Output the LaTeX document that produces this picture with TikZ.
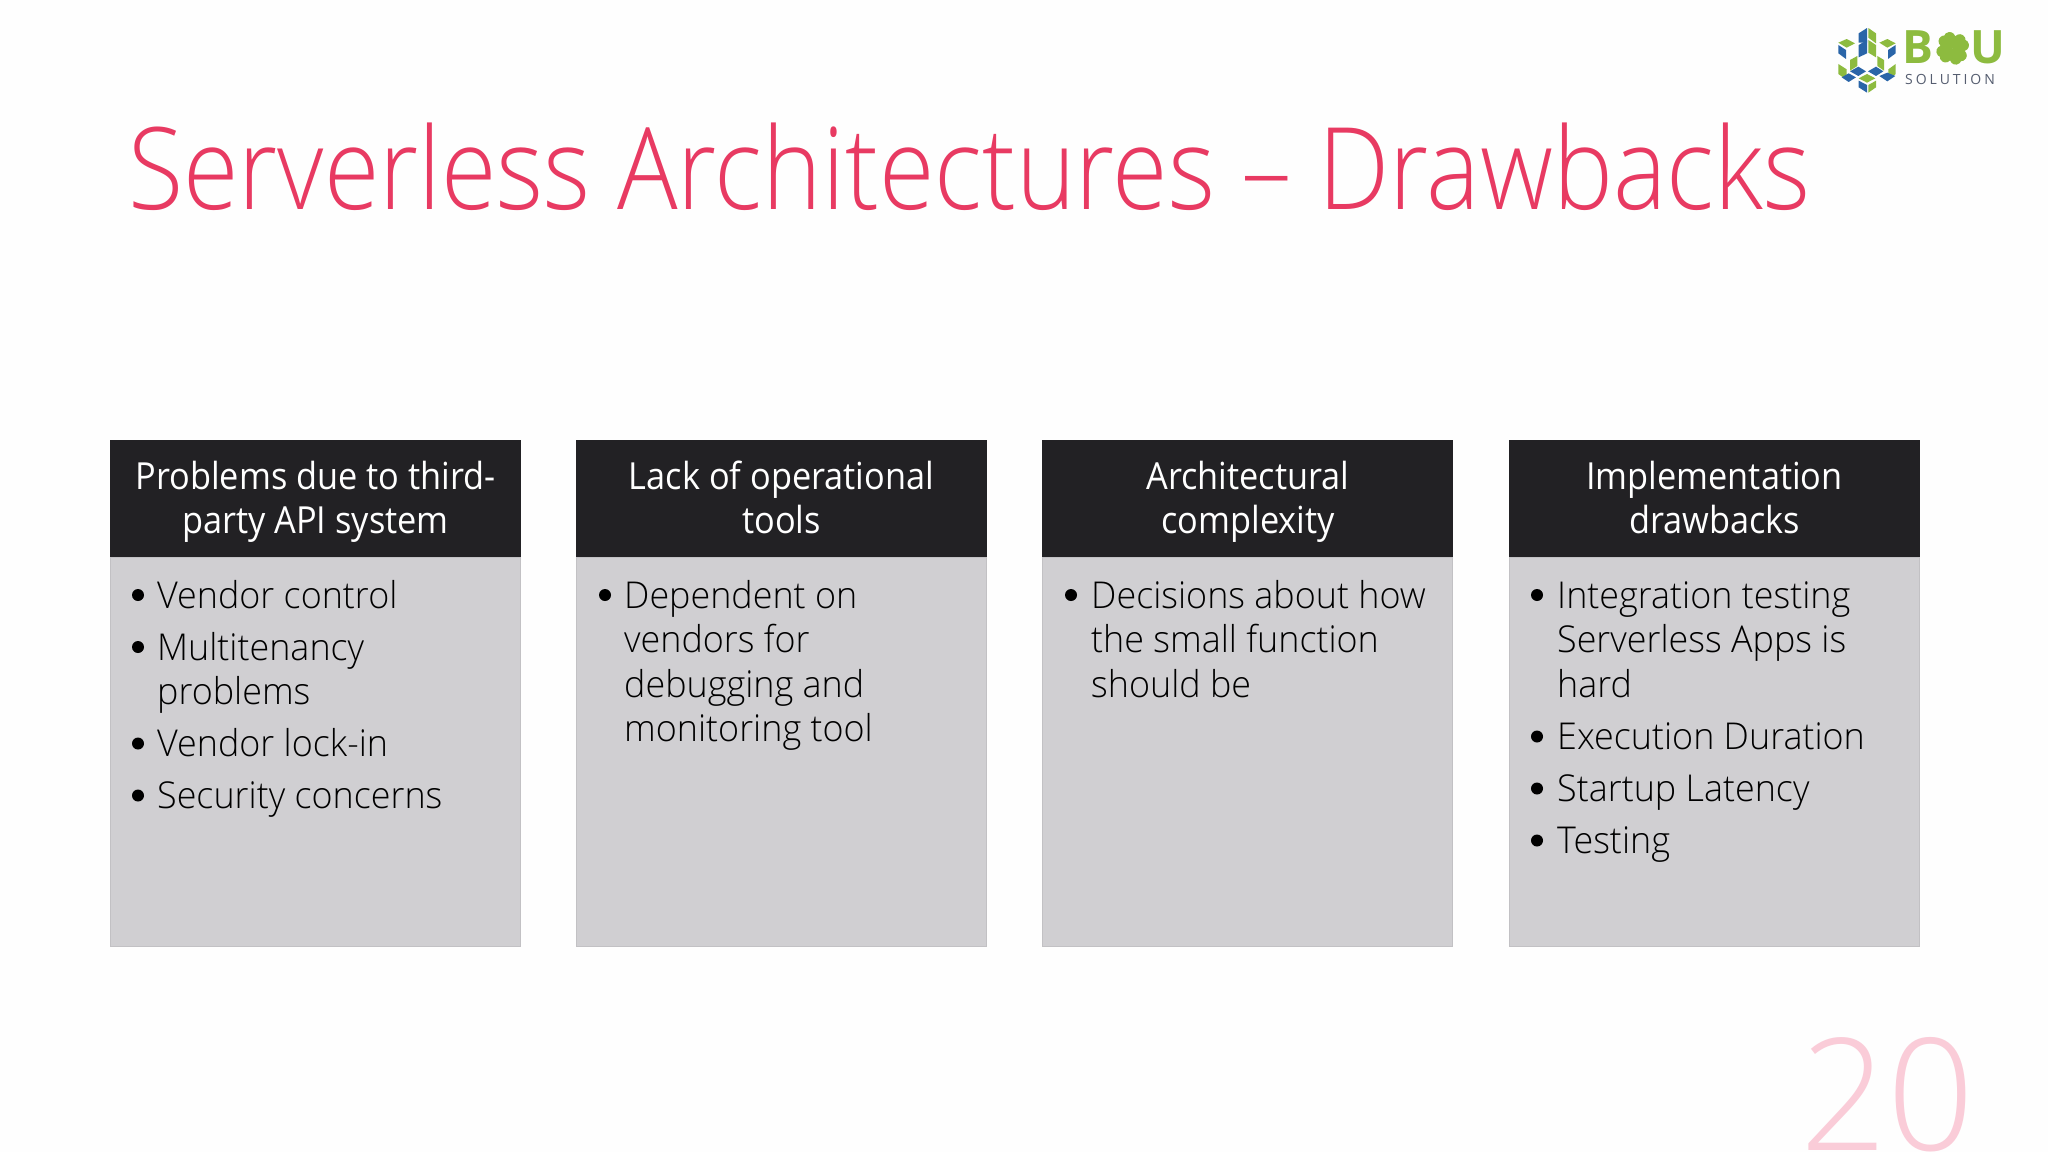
\documentclass[tikz,border=0pt]{standalone}
\usepackage{fontspec}
\setmainfont{Open Sans}
\newfontfamily\ttlfont[FakeStretch=0.885]{Open Sans Light}
\newfontfamily\numfont[FakeStretch=0.975]{Open Sans Light}
\newfontfamily\headfont[FakeStretch=0.92]{Open Sans}
\newfontfamily\bodyfont[FakeStretch=0.97]{Open Sans Light}
\newfontfamily\logofont{Open Sans}
\definecolor{pagebg}{HTML}{FEFEFE}
\definecolor{ttlc}{HTML}{E83A62}
\definecolor{headc}{HTML}{222124}
\definecolor{bodyc}{HTML}{D0CFD2}
\definecolor{edgec}{HTML}{C2C1C4}
\definecolor{numc}{HTML}{FACCD8}
\definecolor{lgreen}{HTML}{8DBB3F}
\definecolor{lblue}{HTML}{2A65A8}
\definecolor{lgray}{HTML}{565E70}
\tikzset{
 head/.style={fill=headc,draw=none},
 panel/.style={fill=bodyc,draw=edgec,line width=0.8pt},
 htext/.style={anchor=base,text=white,inner sep=0pt,font=\headfont\fontsize{37.3}{44}\selectfont},
 btext/.style={anchor=base west,text=black,inner sep=0pt,font=\bodyfont\fontsize{37}{44}\selectfont},
 dot/.style={circle,fill=black,inner sep=0pt,minimum size=12pt},
 lg/.style={fill=lgreen,draw=none},
 lb/.style={fill=lblue,draw=none},
}
\begin{document}
\begin{tikzpicture}[x=1pt,y=-1pt]
\useasboundingbox (0,0) rectangle (2048,1152);
\clip (0,0) rectangle (2048,1152);
\fill[pagebg] (0,0) rectangle (2048,1152);
% title
\node[anchor=base west,inner sep=0pt,text=ttlc,font=\ttlfont\fontsize{114}{120}\selectfont] (title) at (128,209) {Serverless Architectures – Drawbacks};
% panels
\foreach \xa/\xb in {110/521,576/987,1042/1453,1509/1920}{
 \filldraw[panel] (\xa+0.4,557) rectangle (\xb-0.4,946.5);
 \fill[head] (\xa,440) rectangle (\xb,557);
}
% headers
\node[htext] (h1a) at (315.5,489) {Problems due to third-};
\node[htext] (h1b) at (315.5,533) {party API system};
\node[htext] (h2a) at (781.5,489) {Lack of operational};
\node[htext] (h2b) at (781.5,533) {tools};
\node[htext] (h3a) at (1248,489) {Architectural};
\node[htext] (h3b) at (1248,533) {complexity};
\node[htext] (h4a) at (1714.5,489) {Implementation};
\node[htext] (h4b) at (1714.5,533) {drawbacks};
% column 1
\node[dot] (d11) at (138,595) {};
\node[btext] (t11) at (157,608) {Vendor control};
\node[dot] (d12) at (138,647) {};
\node[btext] (t12) at (157,660) {Multitenancy};
\node[btext] (t12b) at (157,704.5) {problems};
\node[dot] (d13) at (138,743.5) {};
\node[btext] (t13) at (157,756.5) {Vendor lock-in};
\node[dot] (d14) at (138,795.5) {};
\node[btext] (t14) at (157,808.5) {Security concerns};
% column 2
\node[dot] (d21) at (605,595) {};
\node[btext] (t21) at (624,608) {Dependent on};
\node[btext] (t22) at (624,652.5) {vendors for};
\node[btext] (t23) at (624,697) {debugging and};
\node[btext] (t24) at (624,741.5) {monitoring tool};
% column 3
\node[dot] (d31) at (1071,595) {};
\node[btext] (t31) at (1091,608) {Decisions about how};
\node[btext] (t32) at (1091,652.5) {the small function};
\node[btext] (t33) at (1091,697) {should be};
% column 4
\node[dot] (d41) at (1537,595) {};
\node[btext] (t41) at (1557,608) {Integration testing};
\node[btext] (t42) at (1557,652.5) {Serverless Apps is};
\node[btext] (t43) at (1557,697) {hard};
\node[dot] (d42) at (1537,736.5) {};
\node[btext] (t44) at (1557,749.5) {Execution Duration};
\node[dot] (d43) at (1537,788.5) {};
\node[btext] (t45) at (1557,801.5) {Startup Latency};
\node[dot] (d44) at (1537,840.5) {};
\node[btext] (t46) at (1557,853.5) {Testing};
% page number
\node[anchor=base west,inner sep=0pt,text=numc,font=\numfont\fontsize{156}{170}\selectfont] (num) at (1800,1150) {20};
% logo
\begin{scope}[shift={(1800,0)},x=0.3333pt,y=-0.3333pt]
\fill[lb] (176,100)--(201,84)--(201,128)--(176,128)--cycle;
\fill[lg] (205,84)--(228,100)--(228,130)--(205,113)--cycle;
\fill[lg] (115,128)--(140,117)--(165,130)--(140,143)--cycle;
\fill[lb] (115,135)--(138,150)--(138,177)--(115,160)--cycle;
\fill[lg] (238,128)--(262,117)--(287,130)--(262,143)--cycle;
\fill[lb] (287,135)--(264,150)--(264,177)--(287,160)--cycle;
\fill[lb] (176,135)--(201,120)--(201,160)--(176,172)--cycle;
\fill[lg] (205,120)--(228,135)--(228,172)--(205,158)--cycle;
\fill[lg] (150,180)--(172,168)--(172,198)--(150,212)--cycle;
\fill[lg] (252,180)--(232,168)--(232,198)--(252,212)--cycle;
\fill[lg] (115,192)--(140,208)--(140,240)--(115,222)--cycle;
\fill[lg] (265,208)--(287,192)--(287,222)--(265,240)--cycle;
\fill[lb] (150,214)--(175,200)--(198,214)--(175,228)--cycle;
\fill[lb] (204,214)--(228,200)--(250,214)--(228,228)--cycle;
\fill[lb] (125,232)--(146,220)--(168,232)--(146,246)--cycle;
\fill[lb] (238,228)--(262,218)--(286,228)--(262,244)--cycle;
\fill[lg] (176,235)--(201,222)--(226,235)--(201,248)--cycle;
\fill[lb] (176,242)--(201,255)--(201,278)--(176,262)--cycle;
\fill[lg] (205,255)--(228,242)--(228,262)--(205,278)--cycle;
% clover: four heart leaves
\foreach \ang in {-12,78,168,258}{
 \fill[lg,rotate around={\ang:(458,145)}] (458,145)
   .. controls (430,138) and (418,118) .. (428,106)
   .. controls (438,94) and (452,98) .. (458,108)
   .. controls (464,98) and (478,94) .. (488,106)
   .. controls (498,118) and (486,138) .. (458,145) -- cycle;
}
\end{scope}
\node[anchor=base west,inner sep=0pt,text=lgreen,font=\logofont\bfseries\fontsize{46}{46}\selectfont] (logob) at (1902,63) {B};
\node[anchor=base west,inner sep=0pt,text=lgreen,font=\logofont\bfseries\fontsize{46}{46}\selectfont] (logou) at (1970,63) {U};
\node[anchor=base west,inner sep=0pt,text=lgray,font=\logofont\fontsize{14}{14}\selectfont\addfontfeature{LetterSpace=21}] (logos) at (1905,84) {SOLUTION};
\end{tikzpicture}
\end{document}
